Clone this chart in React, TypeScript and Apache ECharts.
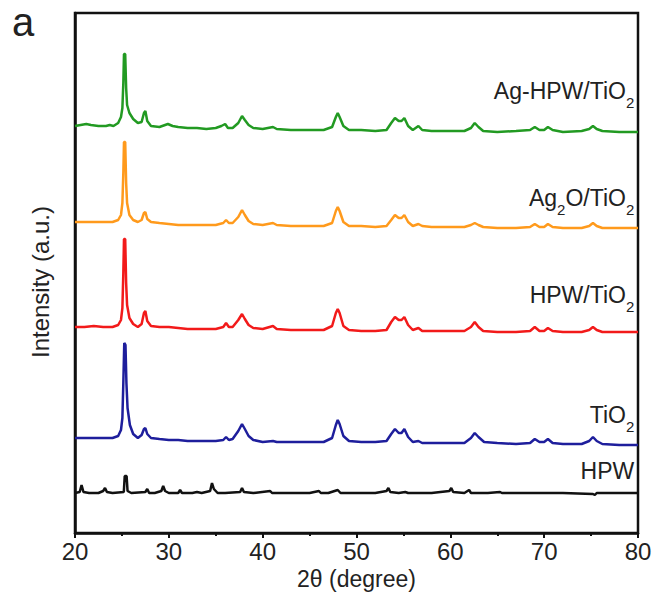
import React, { useEffect, useRef } from "react";
import * as echarts from "echarts";

// 2θ (degree) vs stacked intensity (a.u., offset per pattern)
const xTicks = [20, 30, 40, 50, 60, 70, 80];

const hpw: number[][] = [
  [20, 40], [20.5, 41], [20.7, 48], [20.9, 41], [21.5, 40], [22.5, 40], [23.0, 42], [23.2, 45], [23.4, 41], [24, 40],
  [25.2, 41], [25.3, 57], [25.5, 57], [25.6, 42], [26, 40], [27.5, 41], [27.7, 44], [27.9, 40], [28.5, 40], [29.2, 42],
  [29.4, 47], [29.6, 42], [30, 40], [31, 40], [31.2, 43], [31.4, 40], [32.5, 40], [33, 41], [33.5, 40], [34.4, 42],
  [34.6, 50], [34.8, 44], [35.2, 40], [36, 40], [37.6, 41], [37.8, 45], [38, 41], [39, 40], [40.8, 42], [41, 40],
  [43, 40], [45, 40], [46, 42], [46.2, 40], [47, 40], [48.0, 43], [48.3, 40], [50, 40], [52, 40], [53.2, 42],
  [53.4, 45], [53.6, 41], [54.5, 40], [55.2, 41], [55.5, 40], [58, 40], [59.9, 42], [60.1, 45], [60.3, 41], [61.5, 40],
  [62.0, 43], [62.2, 40], [64, 40], [65.3, 41], [65.5, 40], [68, 40], [72, 40], [75.2, 39], [75.4, 38], [75.6, 40],
  [78, 40], [80, 40],
];

const tio2: number[][] = [
  [20, 95], [21, 95], [22, 95], [23, 95], [24, 95], [24.6, 97], [24.9, 103], [25.05, 115], [25.15, 150], [25.25, 190],
  [25.38, 188], [25.48, 150], [25.6, 125], [25.85, 108], [26.2, 99], [26.7, 95], [27.1, 98], [27.35, 104], [27.5, 105],
  [27.7, 99], [28.1, 95], [29, 94], [30, 93], [31, 93], [32, 92], [33, 92], [34, 92], [35, 92], [35.8, 93], [36.1, 96],
  [36.4, 93], [36.8, 94], [37.4, 102], [37.8, 109], [38.1, 104], [38.5, 97], [39, 93], [40, 91], [41.1, 92], [41.5, 91],
  [43, 91], [45, 91], [46.5, 91], [47.4, 95], [47.8, 108], [48.0, 113], [48.2, 109], [48.6, 97], [49.2, 92], [50.5, 91],
  [52, 91], [53.2, 92], [53.7, 99], [54.1, 104], [54.5, 100], [54.8, 100], [55.1, 104], [55.5, 96], [56, 91], [56.6, 92],
  [57, 90], [58, 90], [60, 90], [61.5, 90], [62.2, 95], [62.6, 100], [63, 96], [63.6, 91], [65, 90], [67, 89],
  [68.5, 90], [69.0, 94], [69.5, 91], [70, 91], [70.4, 94], [70.9, 90], [72, 89], [74, 89], [74.8, 92], [75.2, 96],
  [75.6, 92], [76.2, 89], [78, 88], [80, 88],
];

const hpwTio2: number[][] = [
  [20, 206], [21, 206], [22, 207], [23, 206], [24, 206], [24.6, 208], [24.9, 213], [25.05, 225], [25.15, 260], [25.22, 294],
  [25.35, 294], [25.45, 250], [25.55, 228], [25.8, 215], [26.2, 209], [26.7, 206], [27.1, 209], [27.35, 220], [27.5, 222],
  [27.7, 212], [28.1, 207], [29, 206], [30, 206], [31, 205], [32, 204], [33, 204], [34, 204], [35, 204], [35.8, 206],
  [36.1, 210], [36.4, 206], [36.8, 206], [37.4, 213], [37.8, 219], [38.1, 214], [38.5, 208], [39, 205], [40, 204],
  [41.1, 207], [41.5, 204], [43, 203], [45, 203], [46.5, 203], [47.4, 207], [47.8, 220], [48.0, 224], [48.2, 220],
  [48.6, 207], [49.2, 203], [50.5, 202], [52, 202], [53.2, 203], [53.7, 211], [54.1, 216], [54.5, 213], [54.8, 213],
  [55.1, 216], [55.5, 208], [56, 203], [56.6, 205], [57, 202], [58, 202], [60, 202], [61.5, 202], [62.2, 206], [62.6, 211],
  [63, 206], [63.5, 202], [65, 201], [67, 201], [68.5, 202], [69.0, 206], [69.5, 202], [70, 202], [70.4, 205], [70.9, 202],
  [72, 201], [74, 201], [74.8, 203], [75.2, 206], [75.6, 203], [76.2, 201], [78, 201], [80, 201],
];

const ag2oTio2: number[][] = [
  [20, 311], [21, 311], [22, 311], [23, 311], [24, 311], [24.6, 313], [24.9, 318], [25.05, 330], [25.15, 360], [25.22, 391],
  [25.35, 391], [25.45, 350], [25.55, 330], [25.8, 318], [26.2, 313], [26.7, 311], [27.1, 313], [27.35, 320], [27.5, 321],
  [27.7, 314], [28.1, 311], [29, 310], [30, 309], [31, 308], [32, 308], [33, 308], [34, 308], [35, 308], [35.8, 310],
  [36.1, 313], [36.4, 310], [36.8, 310], [37.4, 316], [37.8, 323], [38.1, 318], [38.5, 312], [39, 309], [40, 308],
  [41.1, 310], [41.5, 308], [43, 307], [45, 307], [46.5, 307], [47.4, 310], [47.8, 322], [48.0, 326], [48.2, 322],
  [48.6, 311], [49.2, 307], [50.5, 307], [52, 306], [53.2, 307], [53.7, 313], [54.1, 318], [54.5, 315], [54.8, 315],
  [55.1, 318], [55.5, 311], [56, 307], [56.6, 309], [57, 307], [58, 306], [60, 306], [61.5, 306], [62.2, 308], [62.6, 310],
  [63, 308], [63.5, 306], [65, 305], [67, 305], [68.5, 306], [69.0, 309], [69.5, 306], [70, 306], [70.4, 309], [70.9, 306],
  [72, 305], [74, 305], [74.8, 307], [75.2, 310], [75.6, 307], [76.2, 305], [78, 305], [80, 305],
];

const agHpwTio2: number[][] = [
  [20, 407], [20.6, 408], [21.2, 409], [21.7, 408], [22.5, 407], [23.3, 407], [23.7, 408], [24.1, 407], [24.6, 410],
  [24.9, 416], [25.05, 425], [25.15, 450], [25.22, 479], [25.35, 479], [25.45, 445], [25.55, 428], [25.8, 420], [26.2, 414],
  [26.7, 410], [27.1, 411], [27.35, 420], [27.5, 422], [27.7, 412], [28.1, 407], [29, 406], [29.9, 409], [30.4, 407],
  [31, 406], [32, 405], [33, 405], [34, 404], [35, 405], [35.6, 407], [36.0, 409], [36.3, 405], [36.8, 405], [37.4, 410],
  [37.8, 417], [38.1, 413], [38.5, 408], [39, 405], [40, 404], [41.1, 406], [41.5, 404], [43, 403], [45, 403], [46.5, 403],
  [47.4, 406], [47.8, 416], [48.0, 420], [48.2, 416], [48.6, 407], [49.2, 403], [50.5, 403], [52, 402], [53.2, 403],
  [53.7, 410], [54.1, 415], [54.5, 412], [54.8, 412], [55.1, 415], [55.5, 407], [56, 403], [56.6, 407], [57, 403], [58, 402],
  [60, 402], [61.5, 402], [62.2, 405], [62.6, 410], [63, 406], [63.5, 402], [65, 401], [67, 402], [68.5, 403], [69.0, 406],
  [69.5, 403], [70, 403], [70.4, 406], [70.9, 403], [72, 401], [74, 402], [74.8, 404], [75.2, 407], [75.6, 404],
  [76.2, 402], [78, 401], [80, 401],
];

const seriesNames = ["HPW", "TiO2", "HPW/TiO2", "Ag2O/TiO2", "Ag-HPW/TiO2"];
const seriesData = [hpw, tio2, hpwTio2, ag2oTio2, agHpwTio2];
const seriesColors = ["#111111", "#1e1e9c", "#f21a1a", "#ff9a1c", "#229a22"];
// rich-text labels (with subscripts), anchored in data coordinates
const labelRich = [
  "{m|HPW}",
  "{m|TiO}{s|2}",
  "{m|HPW/TiO}{s|2}",
  "{m|Ag}{s|2}{m|O/TiO}{s|2}",
  "{m|Ag-HPW/TiO}{s|2}",
];
const labelX = 79.6;
const labelY = [62, 118, 238, 335, 442];

const FONT = "'Liberation Sans', Arial, sans-serif";

export default function App() {
  const ref = useRef<HTMLDivElement>(null);
  useEffect(() => {
    if (!ref.current) return;
    const chart = echarts.init(ref.current, undefined, { renderer: "svg" });
    chart.setOption({
      animation: false,
      backgroundColor: "#ffffff",
      textStyle: { fontFamily: FONT },
      grid: {
        left: 75,
        right: 17,
        top: 13,
        bottom: 78,
        show: true,
        borderColor: "#111",
        borderWidth: 2.5,
        containLabel: false,
      },
      xAxis: {
        type: "value",
        min: 20,
        max: 80,
        interval: 10,
        name: "2θ (degree)",
        nameLocation: "middle",
        nameGap: 33,
        nameTextStyle: { fontSize: 23, color: "#222", fontFamily: FONT },
        axisLine: { show: true, lineStyle: { color: "#111", width: 2.5 } },
        axisTick: { show: true, inside: false, length: 5, lineStyle: { color: "#111", width: 2 } },
        minorTick: { show: true, splitNumber: 2, length: 3, lineStyle: { color: "#111", width: 2 } },
        axisLabel: {
          fontSize: 24,
          color: "#222",
          margin: 6,
          fontFamily: FONT,
          formatter: (v: number) => (xTicks.includes(v) ? String(v) : ""),
        },
        splitLine: { show: false },
      },
      yAxis: {
        type: "value",
        min: 0,
        max: 520,
        axisLine: { show: true, lineStyle: { color: "#111", width: 2.5 } },
        axisTick: { show: false },
        axisLabel: { show: false },
        splitLine: { show: false },
      },
      series: seriesData.map((d, i) => ({
        type: "line",
        name: seriesNames[i],
        data: d,
        showSymbol: false,
        symbol: "none",
        lineStyle: { color: seriesColors[i], width: 2.5 },
        z: 2 + i,
      })),
    });

    const texts = labelRich.map((t, i) => {
      const p = chart.convertToPixel({ gridIndex: 0 }, [labelX, labelY[i]]) as number[];
      return {
        type: "text",
        x: p[0],
        y: p[1],
        style: {
          text: t,
          align: "right",
          verticalAlign: "middle",
          fill: "#222",
          rich: {
            m: { fontSize: 23, fontFamily: FONT, color: "#222", lineHeight: 26, verticalAlign: "middle" },
            s: { fontSize: 15, fontFamily: FONT, color: "#222", lineHeight: 15, verticalAlign: "bottom", padding: [0, 0, -6, 0] },
          },
        },
        z: 10,
      };
    });
    chart.setOption({
      graphic: [
        {
          type: "text",
          left: 12,
          top: 2,
          style: { text: "a", fontSize: 40, fontFamily: FONT, fill: "#222" },
        },
        {
          type: "text",
          x: 40,
          y: 282,
          rotation: Math.PI / 2,
          style: {
            text: "Intensity (a.u.)",
            fontSize: 24,
            fontFamily: FONT,
            fill: "#222",
            align: "center",
            verticalAlign: "middle",
          },
        },
        ...texts,
      ],
    });

    return () => chart.dispose();
  }, []);
  return (
    <div
      ref={ref}
      style={{ position: "fixed", left: 0, top: 0, width: 655, height: 611, background: "#fff" }}
    />
  );
}
